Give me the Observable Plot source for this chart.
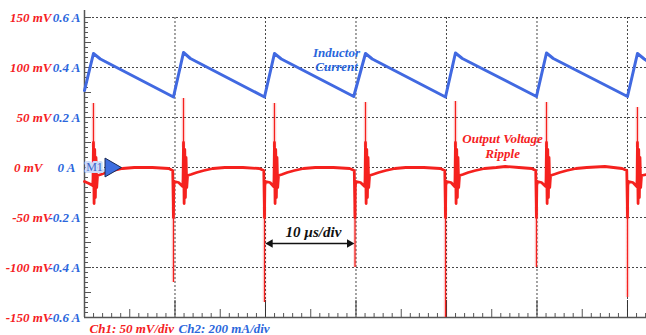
<!DOCTYPE html>
<html>
<head>
<meta charset="utf-8">
<script src="https://cdn.jsdelivr.net/npm/d3@7"></script>
<script src="https://cdn.jsdelivr.net/npm/@observablehq/plot@0.6"></script>
<style>
  html, body { margin: 0; padding: 0; background: #fff; }
  svg { display: block; }
</style>
</head>
<body>
<div id="chart"></div>
<script>
// ---- data (time in µs, voltage in mV, current in A) ----
const yTicks = [150, 100, 50, 0, -50, -100, -150];
const mvLabels = ["150 mV", "100 mV", "50 mV", "0 mV", "-50 mV", "-100 mV", "-150 mV"];
const aLabels = ["0.6 A", "0.4 A", "0.2 A", "0 A", "-0.2 A", "-0.4 A", "-0.6 A"];
const xGrid = [10, 20, 30, 40, 50, 60];

// inductor current (Ch2)
const currentT = [0, 0.99, 1.75, 9.83, 10.94, 11.7, 19.89, 20.99, 21.75, 29.75, 31.05, 31.8, 39.89, 40.99, 41.75, 49.94, 51.05, 51.8, 60.0, 61.1, 61.85, 62.1];
const currentA = [0.308, 0.456, 0.434, 0.282, 0.46, 0.436, 0.282, 0.456, 0.434, 0.284, 0.456, 0.434, 0.282, 0.458, 0.436, 0.284, 0.458, 0.436, 0.284, 0.456, 0.434, 0.428];

// output voltage ripple (Ch1), main (thick) trace
const voltageTrace = [
  [0, -14], [0.5, -16], [0.9, -18],
  [0.94, -12], [0.99, 25], [1.06, -36], [1.13, 18], [1.2, -30], [1.27, 10], [1.35, -20], [1.44, -8],
  [1.8, -7], [2.4, -5], [3.2, -3], [4.2, -1], [5.5, 0], [7.5, 0], [9.3, -1], [9.75, -3],
  [9.83, -50], [9.87, -18], [9.95, -14], [10.4, -15], [10.85, -19],
  [10.89, -12], [10.94, 25], [11.01, -36], [11.08, 18], [11.15, -30], [11.22, 10], [11.3, -20], [11.39, -8],
  [11.75, -7], [12.4, -5], [13.2, -3], [14.2, -1], [15.5, 0], [17.5, 0], [19.3, -1], [19.81, -3],
  [19.89, -50], [19.93, -18], [20.01, -14], [20.5, -15], [20.9, -19],
  [20.94, -12], [20.99, 25], [21.06, -36], [21.13, 18], [21.2, -30], [21.27, 10], [21.35, -20], [21.44, -8],
  [21.8, -7], [22.4, -5], [23.2, -3], [24.2, -1], [25.5, 0], [27.5, 0], [29.3, -1], [29.81, -3],
  [29.89, -50], [29.93, -18], [30.01, -14], [30.5, -15], [30.96, -19],
  [31.0, -12], [31.05, 25], [31.12, -36], [31.19, 18], [31.26, -30], [31.33, 10], [31.41, -20], [31.5, -8],
  [31.85, -7], [32.5, -5], [33.3, -3], [34.3, -1], [35.5, 0], [37.5, 0], [39.3, -1], [39.81, -3],
  [39.89, -50], [39.93, -18], [40.01, -14], [40.5, -15], [40.9, -19],
  [40.94, -12], [40.99, 25], [41.06, -36], [41.13, 18], [41.2, -30], [41.27, 10], [41.35, -20], [41.44, -8],
  [41.8, -7], [42.4, -5], [43.2, -3], [44.2, -1], [45.5, 0], [46.5, 1], [48, 0], [49.4, -1], [49.86, -3],
  [49.94, -50], [49.98, -18], [50.06, -14], [50.5, -15], [50.96, -19],
  [51.0, -12], [51.05, 25], [51.12, -36], [51.19, 18], [51.26, -30], [51.33, 10], [51.41, -20], [51.5, -8],
  [51.85, -7], [52.5, -5], [53.3, -3], [54.3, -1], [55.5, 0], [57.5, 1], [59.4, -1], [59.92, -3],
  [60.0, -50], [60.04, -18], [60.12, -14], [60.6, -15], [61.02, -19],
  [61.06, -12], [61.1, 25], [61.17, -36], [61.24, 18], [61.31, -30], [61.38, 10], [61.46, -20], [61.55, -8],
  [62.1, -7]
];
// thin switching spikes
const upSpikeT = [0.99, 10.94, 20.99, 31.05, 40.99, 51.05, 61.1];
const upSpikeMV = [64, 69, 64, 65, 66, 65, 60];
const downSpikeT = [9.83, 19.89, 29.89, 39.89, 49.94, 60.0];
const downSpikeMV = [-115, -135, -100, -150, -100, -130];

// ---- styling ----
const RED = "#f5211e";
const BLUE = "#2a66dc";
const TRACE_BLUE = "#4169e1";
const AXIS = "#555";
const FONT = "'Liberation Serif', 'Times New Roman', serif";
const W = 646, H = 335, ML = 84, MR = 0, MT = 17, MB = 18;
const plotW = W - ML - MR, plotH = H - MT - MB;

const currentData = currentT.map((t, i) => ({t, a: currentA[i]}));
const voltageData = voltageTrace.map(([t, mv]) => ({t, mv}));
const upSpikes = upSpikeT.map((t, i) => ({t, top: upSpikeMV[i]}));
const downSpikes = downSpikeT.map((t, i) => ({t, bottom: downSpikeMV[i]}));
const yTickData = yTicks.map((v, i) => ({v, mv: mvLabels[i], a: aLabels[i]}));

const yMinor = d3.range(-150, 151, 5).filter(v => v % 25 !== 0);
const yMedium = d3.range(-150, 151, 25);
const xMinor = d3.range(1, 63, 1).filter(v => v % 5 !== 0);
const xMedium = d3.range(5, 63, 10);
const xMajor = d3.range(10, 63, 10);

const textStyle = {fontFamily: FONT, fontWeight: "bold", fontStyle: "italic"};

// scale bar (10 µs/div) end points
const barStart = 20.3, barEnd = 29.5, barY = -76;

const chart = Plot.plot({
  width: W, height: H,
  marginLeft: ML, marginRight: MR, marginTop: MT, marginBottom: MB,
  x: {domain: [0, 62.1], axis: null},
  y: {domain: [-150, 150], axis: null},
  style: {background: "#fff", fontFamily: FONT},
  marks: [
    // dotted grid
    Plot.gridY([150, 100, 50, 0, -50, -100], {stroke: "#333", strokeOpacity: 0.9, strokeDasharray: "2,2"}),
    Plot.gridX(xGrid, {stroke: "#333", strokeOpacity: 0.9, strokeDasharray: "2,2"}),
    // left axis ticks (pointing inward)
    Plot.tickY(yMinor, {y: d => d, stroke: AXIS, insetRight: plotW - 4}),
    Plot.tickY(yMedium, {y: d => d, stroke: AXIS, insetRight: plotW - 7}),
    // bottom axis ticks (pointing inward)
    Plot.tickX(xMinor, {x: d => d, stroke: AXIS, insetTop: plotH - 4}),
    Plot.tickX(xMedium, {x: d => d, stroke: AXIS, insetTop: plotH - 8}),
    Plot.tickX(xMajor, {x: d => d, stroke: "#333", insetTop: plotH - 17}),
    // axis lines
    Plot.ruleX([0], {y1: -150, y2: 157, stroke: AXIS, strokeWidth: 1.5}),
    Plot.ruleY([-150], {stroke: AXIS, strokeWidth: 1.5}),
    // left tick labels: mV (red) and A (blue)
    Plot.text(yTickData.filter(d => d.v !== 0), {x: 0, y: "v", text: "mv", textAnchor: "end", dx: -33, fill: RED, fontSize: 13, ...textStyle}),
    Plot.text(yTickData.filter(d => d.v !== 0), {x: 0, y: "v", text: "a", textAnchor: "end", dx: -4, fill: BLUE, fontSize: 13, ...textStyle}),
    Plot.text(yTickData.filter(d => d.v === 0), {x: 0, y: "v", text: "mv", textAnchor: "end", dx: -42, fill: RED, fontSize: 13, ...textStyle}),
    Plot.text(yTickData.filter(d => d.v === 0), {x: 0, y: "v", text: "a", textAnchor: "end", dx: -9, fill: BLUE, fontSize: 13, ...textStyle}),
    // inductor current, mapped 0.2 A ↔ 50 mV
    Plot.line(currentData, {x: "t", y: d => d.a * 250, stroke: TRACE_BLUE, strokeWidth: 3, strokeLinejoin: "round"}),
    // voltage ripple
    Plot.ruleX(upSpikes, {x: "t", y1: 20, y2: "top", stroke: RED, strokeWidth: 4, strokeOpacity: 0.12}),
    Plot.ruleX(downSpikes, {x: "t", y1: -40, y2: "bottom", stroke: RED, strokeWidth: 4, strokeOpacity: 0.12}),
    Plot.ruleX(upSpikes, {x: "t", y1: 20, y2: "top", stroke: RED, strokeWidth: 1.3}),
    Plot.ruleX(downSpikes, {x: "t", y1: -40, y2: "bottom", stroke: RED, strokeWidth: 1.3}),
    Plot.line(voltageData, {x: "t", y: "mv", stroke: RED, strokeWidth: 2.8, strokeLinejoin: "round"}),
    // annotations
    Plot.text(["Inductor\nCurrent"], {x: 27.85, y: 108, fill: BLUE, fontSize: 13, lineHeight: 1.05, ...textStyle}),
    Plot.text(["Output Voltage\nRipple"], {x: 46.2, y: 21.5, fill: RED, fontSize: 13, lineHeight: 1.15, ...textStyle}),
    Plot.text(["10 µs/div"], {x: 25.3, y: -65, fill: "#111", fontSize: 15, ...textStyle}),
    Plot.link([0], {x1: barStart + 0.4, x2: barEnd - 0.4, y1: barY, y2: barY, stroke: "#111", strokeWidth: 1.5}),
    Plot.dot([barStart], {x: d => d, y: barY, symbol: "triangle", rotate: -90, r: 3.2, fill: "#111", dx: 2}),
    Plot.dot([barEnd], {x: d => d, y: barY, symbol: "triangle", rotate: 90, r: 3.2, fill: "#111", dx: -2}),
    Plot.text(["Ch1: 50 mV/div"], {x: 0.55, y: -161, textAnchor: "start", fill: RED, fontSize: 13, ...textStyle}),
    Plot.text(["Ch2: 200 mA/div"], {x: 10.4, y: -161, textAnchor: "start", fill: BLUE, fontSize: 13, ...textStyle}),
    // M1 marker
    Plot.text(["M1"], {x: 1.1, y: 0, fill: "#3f64c8", stroke: "#cddcf7", strokeWidth: 4, paintOrder: "stroke", fontSize: 12, fontFamily: FONT}),
    Plot.dot([0], {x: 2.87, y: 0, symbol: "triangle", rotate: 90, r: 7, fill: "#3d6ee0", stroke: "#1b2a55", strokeWidth: 1})
  ]
});
document.getElementById("chart").appendChild(chart);
</script>
</body>
</html>
